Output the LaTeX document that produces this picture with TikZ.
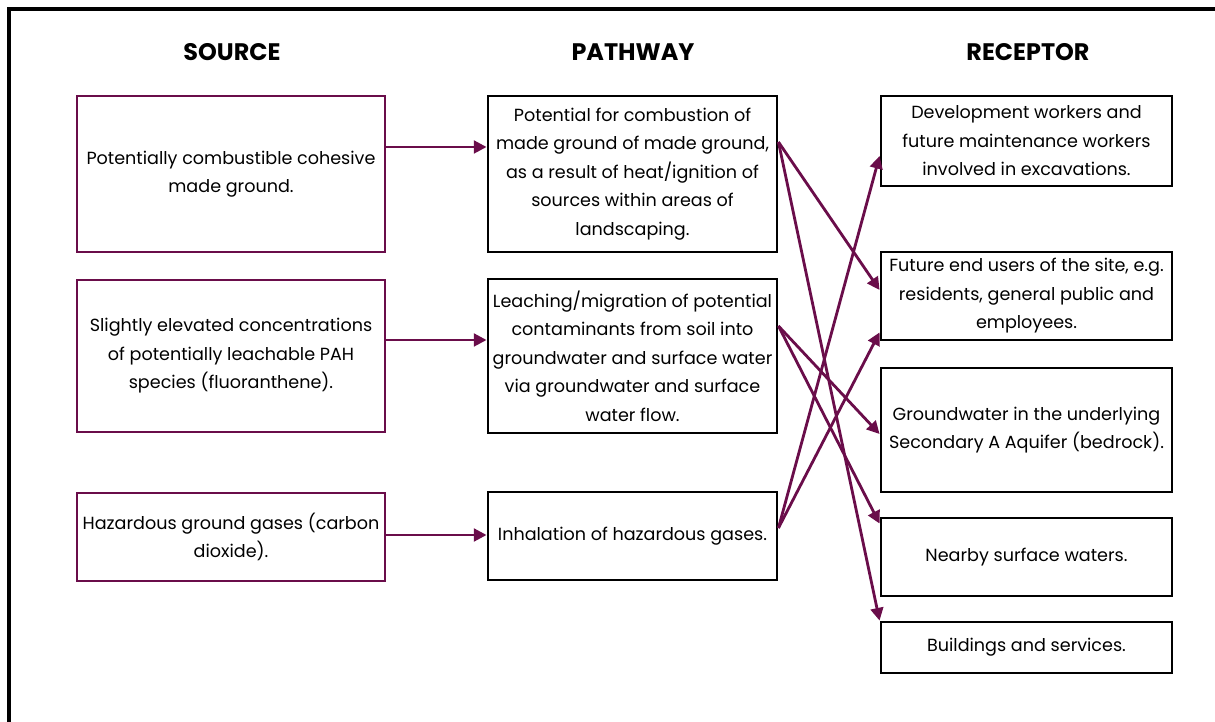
\documentclass[tikz,border=0pt]{standalone}
\usepackage{fontspec}
\setmainfont{Poppins}
\usetikzlibrary{arrows.meta,calc}
\definecolor{plum}{RGB}{106,13,74}

\begin{document}
\begin{tikzpicture}[x=0.025cm,y=0.025cm,
  hd/.style={font=\bfseries\fontsize{17}{20}\selectfont},
  box/.style={draw,line width=2pt,align=center,inner sep=2pt,
    font=\fontsize{12.5}{20.3}\selectfont,minimum height=#1},
  src/.style={box=#1,draw=plum,minimum width=7.7cm},
  path/.style={box=#1,minimum width=7.225cm},
  rcp/.style={box=#1,minimum width=7.275cm},
  arr/.style={draw=plum,line width=2pt,-{Triangle[length=9pt,width=9pt]}}]
\useasboundingbox (0,0) rectangle (1215,722);
% frame
\draw[line width=2.2pt] (9,0) -- (9,713) -- (1215,713);

% headings
\node[hd] (hs) at (232,670) {SOURCE};
\node[hd] (hp) at (633,670) {PATHWAY};
\node[hd] (hr) at (1028,670) {RECEPTOR};

% sources
\node[src=3.9cm] (S1) at (231,548) {Potentially combustible cohesive\\made ground.};
\node[src=3.8cm] (S2) at (231,366) {Slightly elevated concentrations\\of potentially leachable PAH\\species (fluoranthene).};
\node[src=2.2cm] (S3) at (231,185) {Hazardous ground gases (carbon\\dioxide).};

% pathways
\node[path=3.9cm] (P1) at (632.5,548) {Potential for combustion of\\made ground of made ground,\\as a result of heat/ignition of\\sources within areas of\\landscaping.};
\node[path=3.85cm] (P2) at (632.5,366) {Leaching/migration of potential\\contaminants from soil into\\groundwater and surface water\\via groundwater and surface\\water flow.};
\node[path=2.2cm] (P3) at (632.5,186) {Inhalation of hazardous gases.};

% receptors
\node[rcp=2.25cm] (R1) at (1026.5,581) {Development workers and\\future maintenance workers\\involved in excavations.};
\node[rcp=2.2cm] (R2) at (1026.5,426) {Future end users of the site, e.g.\\residents, general public and\\employees.};
\node[rcp=3.1cm] (R3) at (1026.5,292) {Groundwater in the underlying\\Secondary A Aquifer (bedrock).};
\node[rcp=1.95cm] (R4) at (1026.5,165) {Nearby surface waters.};
\node[rcp=1.275cm] (R5) at (1026.5,74.5) {Buildings and services.};

% source -> pathway
\draw[arr] ($(S1.east)+(0,27)$) -- ($(P1.west)+(0,27)$);
\draw[arr] ($(S2.east)+(0,16)$) -- ($(P2.west)+(0,16)$);
\draw[arr] ($(S3.east)+(0,2)$) -- ($(P3.west)+(0,1)$);

% pathway -> receptor
\draw[arr] ($(P1.east)+(0,32)$) -- ($(R2.west)+(0,6)$);
\draw[arr] ($(P1.east)+(0,32)$) -- (R5.north west);
\draw[arr] ($(P2.east)+(0,30)$) -- ($(R3.west)+(0,-4)$);
\draw[arr] ($(P2.east)+(0,30)$) -- ($(R4.north west)+(0,-7)$);
\draw[arr] ($(P3.east)+(0,8)$) -- ($(R1.west)+(0,-15)$);
\draw[arr] ($(P3.east)+(0,8)$) -- ($(R2.south west)+(0,9)$);
\end{tikzpicture}
\end{document}
